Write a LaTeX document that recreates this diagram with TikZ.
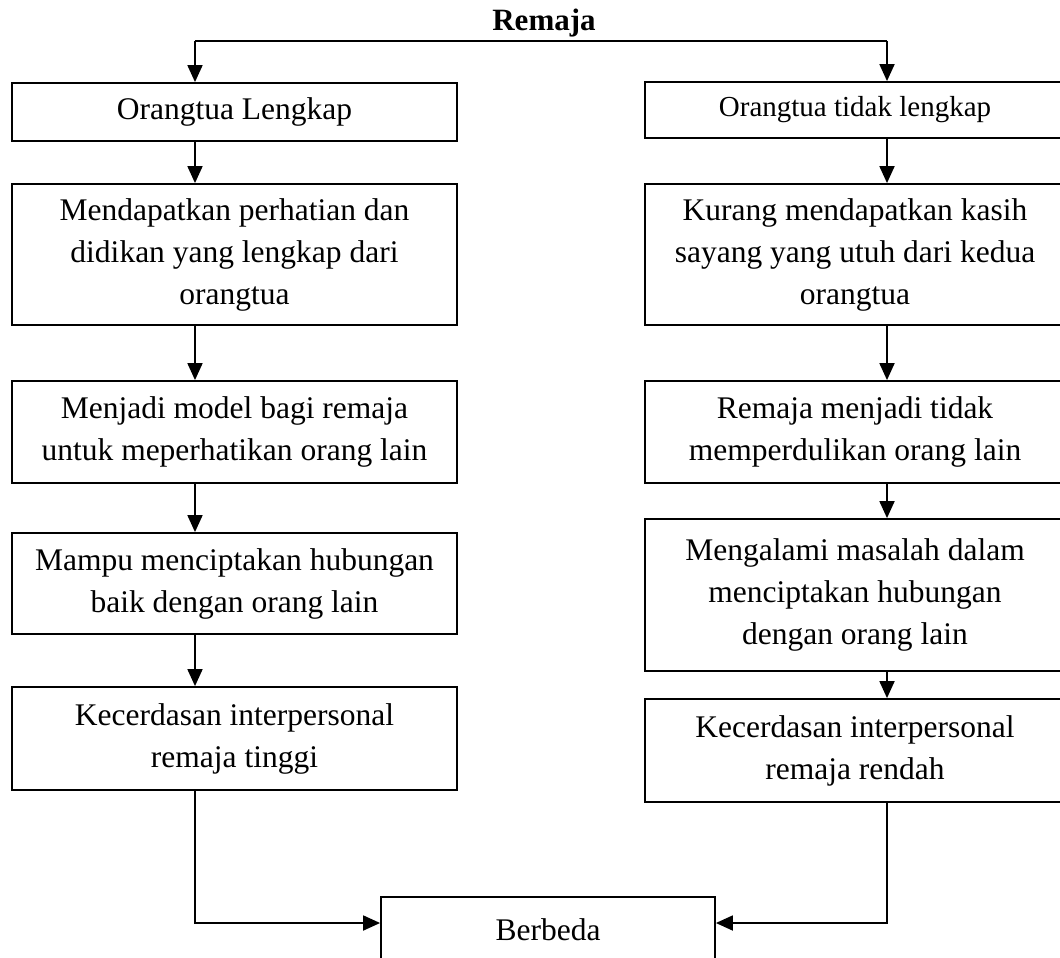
\documentclass[tikz,border=0pt]{standalone}
\usepackage{fontspec}
\setmainfont{Liberation Serif}
\usetikzlibrary{arrows.meta}

\begin{document}
\begin{tikzpicture}[x=1pt,y=-1pt,
  kotak/.style={draw,line width=1.8pt,align=center,inner sep=0pt,
    font=\fontsize{31.5}{42}\selectfont},
  kiri/.style={kotak,minimum width=445pt},
  kanan/.style={kotak,minimum width=420pt},
  panah/.style={line width=1.8pt,-{Triangle[length=17pt,width=15pt]}}]

  \useasboundingbox (0,0) rectangle (1060,958);

  % judul dan garis cabang
  \node[anchor=base,font=\bfseries\fontsize{31}{36}\selectfont] (judul) at (544,31) {Remaja};
  \coordinate (kolL) at (195,41);
  \coordinate (kolR) at (887,41);
  \coordinate (temu) at (0,923);

  % kolom kiri
  \node[kiri,minimum height=58pt]  (l1) at (234.5,112)   {Orangtua Lengkap};
  \node[kiri,minimum height=141pt] (l2) at (234.5,254.5) {Mendapatkan perhatian dan\\didikan yang lengkap dari\\orangtua};
  \node[kiri,minimum height=102pt] (l3) at (234.5,432)   {Menjadi model bagi remaja\\untuk meperhatikan orang lain};
  \node[kiri,minimum height=101pt] (l4) at (234.5,583.5) {Mampu menciptakan hubungan\\baik dengan orang lain};
  \node[kiri,minimum height=103pt] (l5) at (234.5,738.5) {Kecerdasan interpersonal\\remaja tinggi};

  % kolom kanan
  \node[kanan,minimum height=56pt,font=\fontsize{29}{38}\selectfont] (r1) at (855,110) {Orangtua tidak lengkap};
  \node[kanan,minimum height=141pt] (r2) at (855,254.5) {Kurang mendapatkan kasih\\sayang yang utuh dari kedua\\orangtua};
  \node[kanan,minimum height=102pt] (r3) at (855,432)   {Remaja menjadi tidak\\memperdulikan orang lain};
  \node[kanan,minimum height=152pt] (r4) at (855,595)   {Mengalami masalah dalam\\menciptakan hubungan\\dengan orang lain};
  \node[kanan,minimum height=103pt] (r5) at (855,750.5) {Kecerdasan interpersonal\\remaja rendah};

  % hasil
  \node[kotak,minimum width=334pt,minimum height=66pt] (hasil) at (548,930) {Berbeda};

  % panah
  \draw[line width=1.8pt] (kolL) -- (kolR);
  \draw[panah] (kolL) -- (kolL |- l1.north);
  \draw[panah] (kolR) -- (kolR |- r1.north);

  \foreach \a/\b in {l1/l2,l2/l3,l3/l4,l4/l5} {
    \draw[panah] (kolL |- \a.south) -- (kolL |- \b.north);
  };
  \foreach \a/\b in {r1/r2,r2/r3,r3/r4,r4/r5} {
    \draw[panah] (kolR |- \a.south) -- (kolR |- \b.north);
  };

  \draw[panah] (kolL |- l5.south) |- (hasil.west |- temu);
  \draw[panah] (kolR |- r5.south) |- (hasil.east |- temu);

\end{tikzpicture}
\end{document}
